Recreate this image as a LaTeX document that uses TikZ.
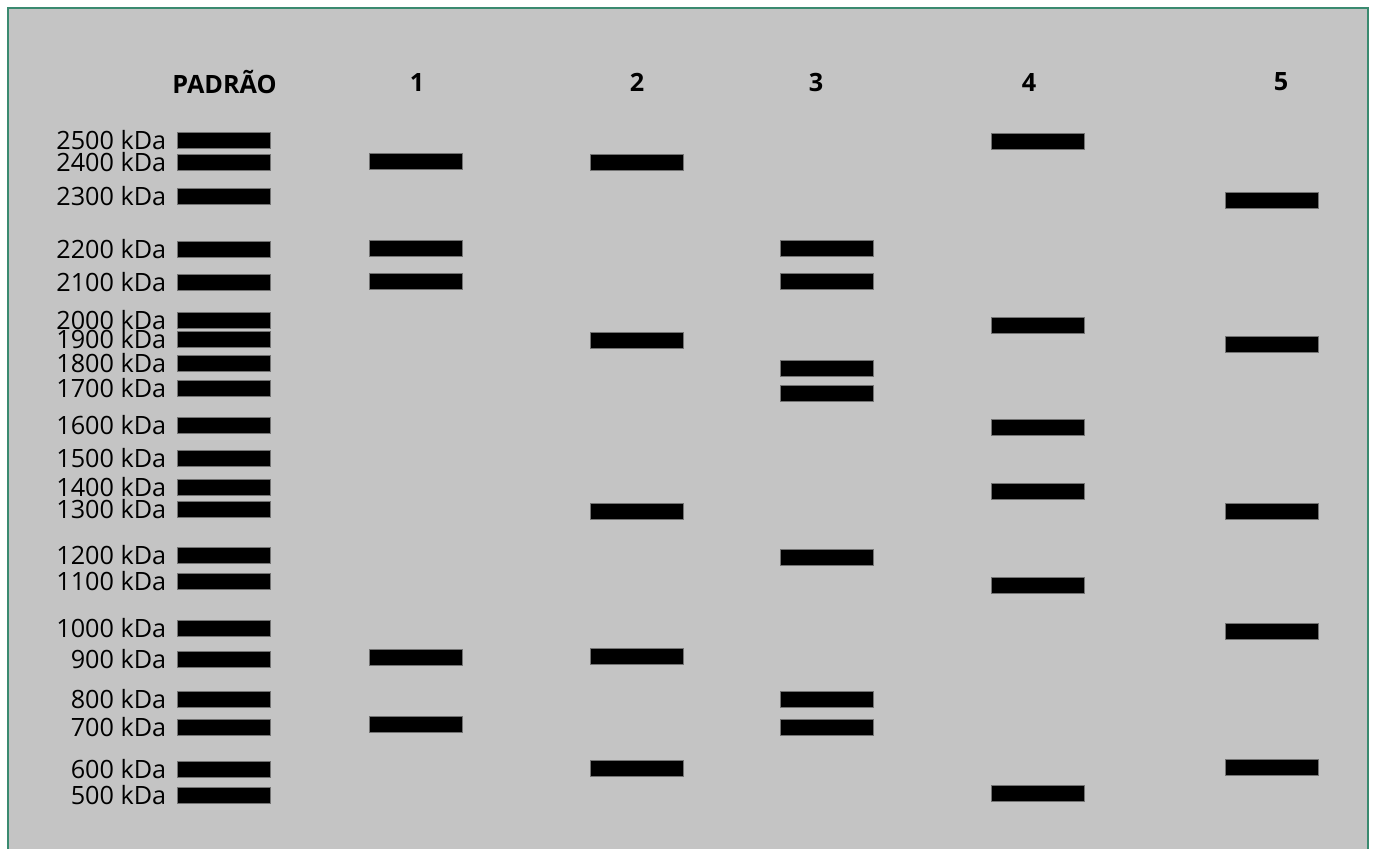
\documentclass[tikz,border=0pt]{standalone}
\usepackage{fontspec}
\setmainfont{Open Sans}
\usetikzlibrary{positioning}
\definecolor{gelgray}{HTML}{C4C4C4}
\definecolor{framegreen}{HTML}{3A8A70}

\begin{document}
\begin{tikzpicture}[x=0.5pt, y=-0.5pt, font=\fontsize{12.6}{15}\selectfont,
  band/.style={fill=black, draw=black!55, line width=0.4pt,
    minimum width=46.5pt, minimum height=8pt, inner sep=0pt},
  kda/.style={inner sep=0pt},
  lanetitle/.style={font=\fontsize{12.6}{15}\selectfont\bfseries, inner sep=0pt}]

  \useasboundingbox (0,0) rectangle (1377,848);

  % --- Gel ---
  \fill[gelgray] (8,8) rectangle (1368,870);
  \draw[framegreen, line width=1pt] (8,8) rectangle (1368,870);

  % --- Titoli ---
  \node[lanetitle, anchor=east] (padrao) at (277,82) {PADRÃO};
  \foreach \n/\x in {1/417, 2/637, 3/816, 4/1029, 5/1281}{
    \node[lanetitle] (lane\n) at (\x,82) {\n};
  }

  % --- Padrao (marcatore) ---
  \foreach \m/\y in {2500/140, 2400/162, 2300/196, 2200/249, 2100/282,
                     2000/320, 1900/339, 1800/363, 1700/388, 1600/425,
                     1500/458, 1400/487, 1300/509, 1200/555, 1100/581,
                     1000/628, 900/659, 800/699, 700/727, 600/769, 500/795}{
    \node[band] (p\m) at (223.5,\y) {};
    \node[kda, left=5pt of p\m] (l\m) {\m{} kDa};
  }

  % --- Corsia 1 ---
  \foreach \i/\y in {1/161, 2/248, 3/281, 4/657, 5/724}{
    \node[band] (a\i) at (415.5,\y) {};
  }
  % --- Corsia 2 ---
  \foreach \i/\y in {1/162, 2/340, 3/511, 4/656, 5/768}{
    \node[band] (b\i) at (636.5,\y) {};
  }
  % --- Corsia 3 ---
  \foreach \i/\y in {1/248, 2/281, 3/368, 4/393, 5/557, 6/699, 7/727}{
    \node[band] (c\i) at (826.5,\y) {};
  }
  % --- Corsia 4 ---
  \foreach \i/\y in {1/141, 2/325, 3/427, 4/491, 5/585, 6/793}{
    \node[band] (d\i) at (1037.5,\y) {};
  }
  % --- Corsia 5 ---
  \foreach \i/\y in {1/200, 2/344, 3/511, 4/631, 5/767}{
    \node[band] (e\i) at (1271.5,\y) {};
  }

\end{tikzpicture}
\end{document}
